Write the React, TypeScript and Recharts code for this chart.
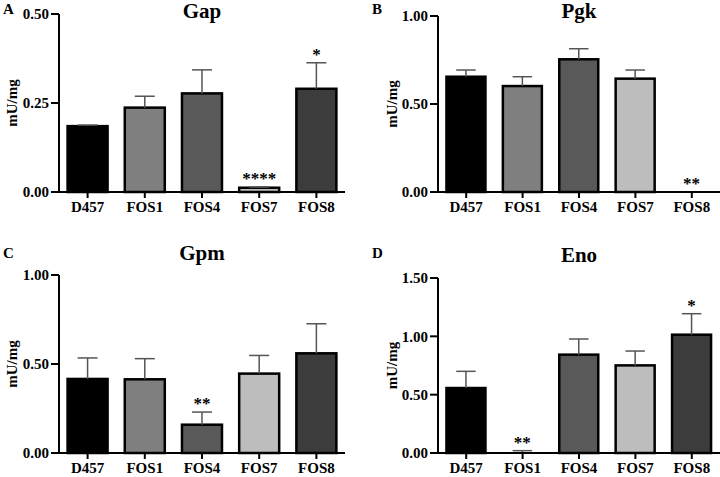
import React from "react";
import { BarChart, Bar, XAxis, YAxis, Cell, LabelList } from "recharts";

const strains = ["D457", "FOS1", "FOS4", "FOS7", "FOS8"];
const fills = ["#000000", "#7f7f7f", "#595959", "#bdbdbd", "#3c3c3c"];

// panel A - Gap
const gapMean = [0.185, 0.237, 0.277, 0.012, 0.29];
const gapErr = [0.003, 0.032, 0.066, 0.002, 0.073];
const gapSig = ["", "", "", "****", "*"];
const gapTicks = [0, 0.25, 0.5];

// panel B - Pgk
const pgkMean = [0.655, 0.602, 0.754, 0.644, 0];
const pgkErr = [0.038, 0.053, 0.06, 0.049, 0];
const pgkSig = ["", "", "", "", "**"];
const pgkTicks = [0, 0.5, 1];

// panel C - Gpm
const gpmMean = [0.416, 0.414, 0.159, 0.446, 0.56];
const gpmErr = [0.118, 0.116, 0.071, 0.102, 0.166];
const gpmSig = ["", "", "**", "", ""];
const gpmTicks = [0, 0.5, 1];

// panel D - Eno
const enoMean = [0.557, 0, 0.843, 0.751, 1.014];
const enoErr = [0.143, 0.02, 0.134, 0.123, 0.18];
const enoSig = ["", "**", "", "", "*"];
const enoTicks = [0, 0.5, 1, 1.5];

const serif = '"Liberation Serif", "Times New Roman", serif';

// bar with black outline
const BarShape = (p: any) => {
  if (!(p.height > 0.5)) return <g />;
  return (
    <rect x={p.x} y={p.y} width={p.width} height={p.height} fill={p.fill} stroke="#000" strokeWidth={2.5} />
  );
};

// upper error whisker, drawn as a stacked segment on top of the bar
const ErrShape = (p: any) => {
  if (!(p.height > 0)) return <g />;
  const cx = p.x + p.width / 2;
  return (
    <g stroke="#555" strokeWidth={1.5}>
      <line x1={cx} x2={cx} y1={p.y} y2={p.y + p.height} />
      <line x1={p.x + p.width / 4} x2={p.x + (3 * p.width) / 4} y1={p.y} y2={p.y} />
    </g>
  );
};

interface PanelProps {
  left: number;
  top: number;
  height: number;
  letter: string;
  letterX: number;
  letterY: number;
  title: string;
  titleX: number;
  titleY: number;
  means: number[];
  errs: number[];
  sig: string[];
  ticks: number[];
  marginTop: number;
  marginRight: number;
  yWidth: number;
  xHeight: number;
  labelX: number;
}

function Panel(props: PanelProps) {
  const data = strains.map((s, i) => ({
    name: s,
    mean: props.means[i],
    err: props.errs[i],
    sig: props.sig[i],
  }));
  const tickStyle = { fontSize: 15, fontWeight: 700, fill: "#000", fontFamily: serif };

  return (
    <>
      <div
        style={{
          position: "absolute",
          left: props.letterX,
          top: props.letterY,
          fontSize: 15,
          fontWeight: 700,
          lineHeight: "16px",
        }}
      >
        {props.letter}
      </div>
      <div
        style={{
          position: "absolute",
          left: props.titleX - 60,
          width: 120,
          top: props.titleY,
          textAlign: "center",
          fontSize: 21,
          fontWeight: 700,
          lineHeight: "21px",
        }}
      >
        {props.title}
      </div>
      <div style={{ position: "absolute", left: props.left, top: props.top }}>
        <BarChart
          width={360}
          height={props.height}
          data={data}
          margin={{ top: props.marginTop, right: props.marginRight, left: 0, bottom: 0 }}
          barCategoryGap="15%"
        >
          <XAxis
            dataKey="name"
            height={props.xHeight}
            interval={0}
            tickSize={6}
            tickMargin={3}
            axisLine={{ stroke: "#000", strokeWidth: 2 }}
            tickLine={{ stroke: "#000", strokeWidth: 2 }}
            tick={tickStyle}
          />
          <YAxis
            width={props.yWidth}
            domain={[0, props.ticks[props.ticks.length - 1]]}
            ticks={props.ticks}
            interval={0}
            tickSize={8}
            tickMargin={2}
            tickFormatter={(v: number) => v.toFixed(2)}
            axisLine={{ stroke: "#000", strokeWidth: 2 }}
            tickLine={{ stroke: "#000", strokeWidth: 2 }}
            tick={tickStyle}
            label={{
              content: (lp: any) => {
                const vb = lp.viewBox || {};
                const x = props.labelX;
                const y = (vb.y || 0) + (vb.height || 0) / 2;
                return (
                  <text
                    x={x}
                    y={y}
                    transform={`rotate(-90, ${x}, ${y})`}
                    textAnchor="middle"
                    dominantBaseline="central"
                    fontFamily={serif}
                    fontWeight={700}
                    fontSize={15}
                    fill="#000"
                  >
                    mU/mg
                  </text>
                );
              },
            }}
          />
          <Bar dataKey="mean" stackId="a" shape={BarShape} isAnimationActive={false}>
            {data.map((d, i) => (
              <Cell key={d.name} fill={fills[i]} />
            ))}
          </Bar>
          <Bar dataKey="err" stackId="a" shape={ErrShape} isAnimationActive={false}>
            <LabelList
              dataKey="sig"
              position="top"
              offset={3}
              style={{ fontSize: 17, fontWeight: 700, fill: "#000", fontFamily: serif }}
            />
          </Bar>
        </BarChart>
      </div>
    </>
  );
}

export default function App() {
  return (
    <div
      style={{
        position: "absolute",
        left: 0,
        top: 0,
        width: 720,
        height: 477,
        background: "#fff",
        overflow: "hidden",
        fontFamily: serif,
        color: "#000",
      }}
    >
      <Panel
        left={0} top={0} height={240}
        letter="A" letterX={3} letterY={1}
        title="Gap" titleX={202} titleY={1}
        means={gapMean} errs={gapErr} sig={gapSig} ticks={gapTicks}
        marginTop={14} marginRight={15} yWidth={59} xHeight={48} labelX={12}
      />
      <Panel
        left={360} top={0} height={240}
        letter="B" letterX={372} letterY={1}
        title="Pgk" titleX={579} titleY={1}
        means={pgkMean} errs={pgkErr} sig={pgkSig} ticks={pgkTicks}
        marginTop={16} marginRight={0} yWidth={78} xHeight={48} labelX={32}
      />
      <Panel
        left={0} top={240} height={237}
        letter="C" letterX={3} letterY={245}
        title="Gpm" titleX={202} titleY={243}
        means={gpmMean} errs={gpmErr} sig={gpmSig} ticks={gpmTicks}
        marginTop={35} marginRight={15} yWidth={59} xHeight={24} labelX={12}
      />
      <Panel
        left={360} top={240} height={237}
        letter="D" letterX={372} letterY={245}
        title="Eno" titleX={579} titleY={245}
        means={enoMean} errs={enoErr} sig={enoSig} ticks={enoTicks}
        marginTop={38} marginRight={0} yWidth={78} xHeight={24} labelX={32}
      />
    </div>
  );
}
